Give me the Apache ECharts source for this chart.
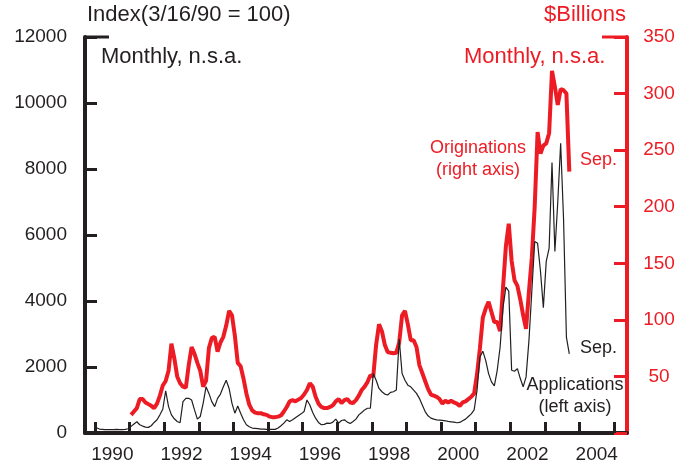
<!DOCTYPE html>
<html>
<head>
<meta charset="utf-8">
<script src="https://cdn.jsdelivr.net/npm/echarts@6/dist/echarts.min.js"></script>
<style>
  html, body { margin: 0; padding: 0; background: #fff; }
  #chart { width: 693px; height: 470px; }
</style>
</head>
<body>
<div id="chart"></div>
<script>
// monthly series, first value is the month given in *Start
const applicationsStart = [1990, 1]
const applications = [
  160, 120, 110, 100, 100, 100, 100, 110, 100, 100, 110, 130,
  200, 270, 340, 250, 210, 180, 170, 220, 320, 400, 550, 720,
  1280, 800, 550, 430, 350, 310, 950, 1050, 1050, 1000, 700, 420,
  500, 900, 1400, 1200, 950, 800, 1050, 1180, 1400, 1600, 1350, 900,
  600, 820, 600, 400, 250, 190, 150, 140, 130, 120, 120, 110,
  110, 110, 110, 150, 220, 300, 400, 350, 400, 460, 520, 580,
  650, 1000, 850, 620, 450, 320, 250, 260, 300, 290, 330, 420,
  300, 380, 400, 330, 290, 350, 420, 550, 620, 700, 750, 750,
  1800, 1600, 1350, 1250, 1180, 1150, 1230, 1250, 1300, 2850, 1800, 1600,
  1450, 1400, 1300, 1200, 1050, 850, 650, 520, 450, 420, 400, 390,
  380, 370, 350, 340, 330, 310, 320, 370, 420, 500, 580, 700,
  1300, 2300, 2480, 2200, 1800, 1550, 1430, 1900, 2600, 3800, 4420, 4300,
  1900, 1870, 1950, 1650, 1400, 1700, 2800, 4300, 5800, 5750, 4900, 3800,
  5200, 5600, 8200, 5500, 7000, 8780, 6500, 2900, 2400
]

const originationsStart = [1991, 1]
const originations = [
  16, 19, 22, 30, 30, 27, 25.5, 24, 22, 26, 33, 42,
  46, 55, 79, 66, 50, 44, 41, 40, 60, 76, 70, 62,
  55, 41, 46, 75, 84, 85, 72, 80, 85, 95, 108, 104,
  86, 62, 59, 48, 35, 25, 20, 18, 17.5, 17.5, 16.5, 16,
  14.5, 14, 14, 14.5, 15.5, 19, 23, 28, 29, 28, 29.5, 31,
  34, 38, 44, 41, 32, 26, 23, 22, 22, 23, 24.5, 28,
  30, 26.5, 29, 30, 27, 26.5, 29, 33, 38, 41, 45, 51,
  50, 78, 96, 90, 78, 71.5, 71, 70.5, 71, 80, 104, 108,
  96, 82, 82, 76, 60, 53, 46, 39, 34, 33, 32, 30,
  26, 28.5, 27, 28.5, 27, 26, 24, 27, 28, 30, 32, 35,
  52, 75, 102, 110, 116, 107, 98, 98, 90, 128, 165, 185,
  152, 135, 130, 118, 104, 92, 125, 155, 200, 266, 247, 254,
  256, 265, 320, 306, 290, 304, 303, 300, 231
]

const yearTicks = [1990, 1991, 1992, 1993, 1994, 1995, 1996, 1997, 1998, 1999, 2000, 2001, 2002, 2003, 2004, 2005]
const yearLabels = [1990, 1992, 1994, 1996, 1998, 2000, 2002, 2004]

const BLACK = '#231f20'
const RED = '#ed1c24'
const FONT = '"Liberation Sans", Arial, sans-serif'

const X_MIN = 1989.71
const X_MAX = 2005.376

// month index -> decimal year, point placed mid-month
const toPoints = (start, values) =>
  values.map((v, i) => [start[0] + (start[1] - 1 + i + 0.5) / 12, v])

const myChart = echarts.init(document.getElementById('chart'), null, { renderer: 'canvas' })

const options = {
  animation: false,
  textStyle: { fontFamily: FONT },
  grid: { left: 85, right: 66, top: 37, bottom: 37, containLabel: false },
  xAxis: {
    type: 'value',
    min: X_MIN,
    max: X_MAX,
    axisLine: { lineStyle: { color: BLACK, width: 4 } },
    axisTick: {
      inside: true,
      length: 11,
      lineStyle: { color: BLACK, width: 3 },
      customValues: yearTicks
    },
    axisLabel: {
      color: BLACK,
      fontSize: 19,
      margin: 12,
      customValues: yearLabels.map(y => y + 0.5),
      formatter: v => String(Math.floor(v))
    },
    splitLine: { show: false }
  },
  yAxis: [
    {
      type: 'value',
      min: 0,
      max: 12000,
      interval: 2000,
      position: 'left',
      axisLine: { show: true, lineStyle: { color: BLACK, width: 4 } },
      axisTick: { show: true, inside: true, length: 12, lineStyle: { color: BLACK, width: 3 } },
      axisLabel: { color: BLACK, fontSize: 19, margin: 18, formatter: v => String(v) },
      splitLine: { show: false }
    },
    {
      type: 'value',
      min: 0,
      max: 350,
      interval: 50,
      position: 'right',
      axisLine: { show: true, lineStyle: { color: RED, width: 4 } },
      axisTick: { show: true, inside: true, length: 13, lineStyle: { color: RED, width: 3 } },
      axisLabel: {
        color: RED,
        fontSize: 19,
        margin: 32,
        align: 'center',
        formatter: v => (v === 0 ? '' : String(v))
      },
      splitLine: { show: false }
    }
  ],
  series: [
    {
      name: 'Originations',
      type: 'line',
      yAxisIndex: 1,
      showSymbol: false,
      lineStyle: { color: RED, width: 4 },
      data: toPoints(originationsStart, originations)
    },
    {
      name: 'Applications',
      type: 'line',
      yAxisIndex: 0,
      showSymbol: false,
      lineStyle: { color: BLACK, width: 1.2 },
      data: toPoints(applicationsStart, applications)
    }
  ]
}

myChart.setOption(options)

// longer top ticks on both value axes, plus the text notes
const topLeft = myChart.convertToPixel({ gridIndex: 0 }, [X_MIN, 12000])
const topRight = myChart.convertToPixel({ gridIndex: 0 }, [X_MAX, 12000])

myChart.setOption({
  graphic: [
    {
      type: 'line',
      shape: { x1: topLeft[0], y1: topLeft[1], x2: topLeft[0] + 24, y2: topLeft[1] },
      style: { stroke: BLACK, lineWidth: 3 }
    },
    {
      type: 'line',
      shape: { x1: topRight[0] - 25, y1: topRight[1], x2: topRight[0], y2: topRight[1] },
      style: { stroke: RED, lineWidth: 3 }
    },
    { type: 'text', left: 87, top: 4, style: { text: 'Index(3/16/90 = 100)', fill: BLACK, font: '22px ' + FONT } },
    { type: 'text', right: 67, top: 4, style: { text: '$Billions', fill: RED, font: '22px ' + FONT } },
    { type: 'text', left: 101, top: 46, style: { text: 'Monthly, n.s.a.', fill: BLACK, font: '22px ' + FONT } },
    { type: 'text', left: 464, top: 46, style: { text: 'Monthly, n.s.a.', fill: RED, font: '22px ' + FONT } },
    {
      type: 'text', x: 478, y: 137,
      style: { text: 'Originations\n(right axis)', fill: RED, font: '18px ' + FONT, align: 'center', lineHeight: 22 }
    },
    { type: 'text', x: 580, y: 151, style: { text: 'Sep.', fill: RED, font: '18px ' + FONT } },
    { type: 'text', x: 580, y: 339, style: { text: 'Sep.', fill: BLACK, font: '18px ' + FONT } },
    {
      type: 'text', x: 575, y: 374,
      style: { text: 'Applications\n(left axis)', fill: BLACK, font: '18px ' + FONT, align: 'center', lineHeight: 22 }
    }
  ]
})

window.addEventListener('resize', () => {
  myChart.resize()
})
</script>
</body>
</html>
